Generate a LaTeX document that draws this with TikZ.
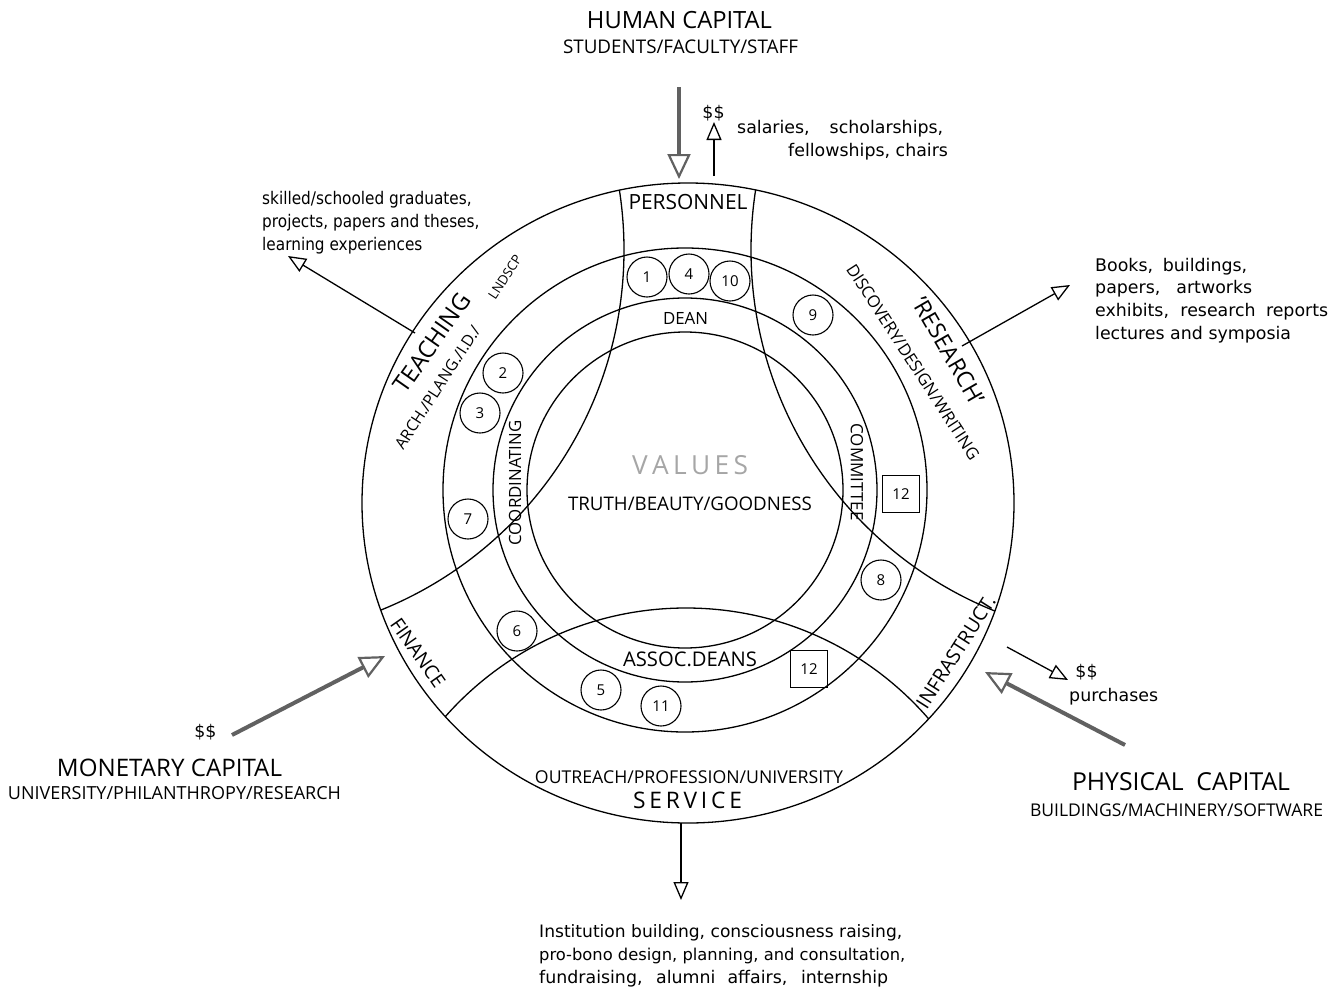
\documentclass[tikz,border=0pt]{standalone}
\usepackage{fontspec}
\setmainfont{Open Sans}
\newfontfamily\bodyfont{DejaVu Sans}
\usepackage{graphicx}
\usetikzlibrary{arrows.meta}
\newcommand\fitw[2]{\resizebox{#1pt}{!}{#2}}
\newcommand\spw[2]{\makebox[#1pt][s]{#2}}
\newcommand\narrowtext[1]{\scalebox{0.88}[1]{#1}}
\tikzset{
  ring/.style={line width=1.3pt},
  bigarc/.style={line width=1.3pt},
  num/.style={circle, draw, line width=1.1pt, minimum size=40pt, inner sep=0pt, font=\fontsize{15}{18}\selectfont},
  numsq/.style={rectangle, draw, line width=1.1pt, minimum size=37pt, inner sep=0pt, font=\fontsize{15}{18}\selectfont},
  lbl/.style={inner sep=0pt, anchor=center},
  lbb/.style={inner sep=0pt, anchor=base},
  lbw/.style={inner sep=0pt, anchor=base west},
  body/.style={inner sep=0pt, anchor=base west, font=\bodyfont\fontsize{17.4}{21}\selectfont},
  bodyc/.style={inner sep=0pt, anchor=base, font=\bodyfont\fontsize{17.4}{21}\selectfont},
  thinarrow/.style={line width=1.3pt, -{Triangle[open, length=18pt, width=15pt, line width=1.3pt]}},
  thickarrow/.style={line width=4pt, draw=black!62, -{Triangle[open, length=25pt, width=23pt, line width=2.2pt]}},
}
\begin{document}
\begin{tikzpicture}[x=1pt,y=-1pt]
\fill[white] (0,0) rectangle (1339,991);
\useasboundingbox (0,0) rectangle (1339,991);

% rings
\coordinate (O) at (688,503);
\coordinate (C) at (685,490);
\draw[ring] (O) ellipse [x radius=326, y radius=320];
\draw[ring] (C) circle [radius=242];
\draw[ring] (C) circle [radius=192];
\draw[ring] (C) circle [radius=158];

% big arcs
\begin{scope}
  \clip (O) ellipse [x radius=326, y radius=320];
  \draw[bigarc] (236,250) circle [radius=388];
  \draw[bigarc] (1140,250) circle [radius=389];
  \draw[bigarc] (686,929) circle [radius=321];
\end{scope}

% numbered circles and squares
\node[num] (n1) at (647,277) {1};
\node[num] (n4) at (689,274) {4};
\node[num] (n10) at (730,281) {10};
\node[num] (n2) at (503,373) {2};
\node[num] (n3) at (480,413) {3};
\node[num] (n7) at (468,519) {7};
\node[num] (n9) at (813,315) {9};
\node[num] (n8) at (881,580) {8};
\node[num] (n6) at (517,631) {6};
\node[num] (n5) at (601,690) {5};
\node[num] (n11) at (661,706) {11};
\node[numsq] (s12a) at (901,494) {12};
\node[numsq] (s12b) at (809,669) {12};

% labels inside the circle
\node[lbb] (personnel) at (688,209) {\fitw{119}{PERSONNEL}};
\node[lbb] (dean) at (685.5,324) {\fitw{45}{DEAN}};
\node[lbb] (assoc) at (690,666) {\fitw{134}{ASSOC.DEANS}};
\node[lbb, text=black!35] (values) at (690,474) {\fitw{116}{V\,A\,L\,U\,E\,S}};
\node[lbb] (truth) at (690,510) {\fitw{244}{TRUTH/BEAUTY/GOODNESS}};
\node[lbb] (outreach) at (689,783) {\fitw{308}{OUTREACH/PROFESSION/UNIVERSITY}};
\node[lbb] (service) at (687.5,808) {\fitw{109}{S\,E\,R\,V\,I\,C\,E}};
\node[lbl, rotate=90] (coord) at (515,483) {\fitw{125}{COORDINATING}};
\node[lbl, rotate=-90] (committee) at (857,472) {\fitw{97}{COMMITTEE}};
\node[lbl, rotate=55] (teaching) at (432,343) {\fitw{115}{TEACHING}};
\node[lbl, rotate=57] (arch) at (437.5,387.5) {\fitw{143}{ARCH./PLANG./I.D./}};
\node[lbl, rotate=57] (lndscp) at (505,277) {\fitw{50}{LNDSCP}};
\node[lbl, rotate=-60] (research) at (949,351) {\fitw{120}{'RESEARCH'}};
\node[lbl, rotate=-57] (discovery) at (913,362) {\fitw{229}{DISCOVERY/DESIGN/WRITING}};
\node[lbl, rotate=-55] (finance) at (418,653) {\fitw{80}{FINANCE}};
\node[lbl, rotate=57.5] (infra) at (956,652) {\fitw{130}{INFRASTRUCT.}};

% outside labels
\node[lbb] (hc) at (679.5,28) {\fitw{185}{HUMAN CAPITAL}};
\node[lbb] (hcs) at (680.5,53) {\fitw{235}{STUDENTS/FACULTY/STAFF}};
\node[bodyc] (dd1) at (713.5,118) {\$\$};
\node[body] (sal1) at (737,133) {\spw{206}{salaries, scholarships,}};
\node[body] (sal2) at (788,156.5) {fellowships, chairs};

\node[body] (tt1) at (262,204) {\narrowtext{skilled/schooled graduates,}};
\node[body] (tt2) at (262,227) {\narrowtext{projects, papers and theses,}};
\node[body] (tt3) at (262,250) {\narrowtext{learning experiences}};

\node[body] (rr1) at (1095,271) {\spw{152}{Books, buildings,}};
\node[body] (rr2) at (1095,293.5) {\spw{157}{papers, artworks}};
\node[body] (rr3) at (1095,316.5) {\spw{233}{exhibits, research reports}};
\node[body] (rr4) at (1095,339) {lectures and symposia};

\node[bodyc] (dd2) at (205.5,737) {\$\$};
\node[lbb] (mc) at (169.5,776) {\fitw{225}{MONETARY CAPITAL}};
\node[lbb] (mcs) at (174.5,799) {\fitw{333}{UNIVERSITY/PHILANTHROPY/RESEARCH}};

\node[bodyc] (dd3) at (1086.5,677) {\$\$};
\node[body] (purch) at (1069,701) {purchases};
\node[lbb] (pc) at (1181,790) {\fitw{218}{PHYSICAL\ \ CAPITAL}};
\node[lbb] (pcs) at (1176.5,816) {\fitw{293}{BUILDINGS/MACHINERY/SOFTWARE}};

\node[body] (ss1) at (539,937) {\fitw{363}{Institution building, consciousness raising,}};
\node[body] (ss2) at (539,960) {\fitw{366}{pro-bono design, planning, and consultation,}};
\node[body] (ss3) at (539,983) {\spw{349}{fundraising, alumni affairs, internship}};

% arrows
\coordinate (hcA) at (679,87);   \coordinate (hcB) at (679,179);
\coordinate (ssA) at (714,176);  \coordinate (ssB) at (714,122);
\coordinate (teA) at (415,333);  \coordinate (teB) at (288,256);
\coordinate (reA) at (962,346);  \coordinate (reB) at (1070,285);
\coordinate (moA) at (232,735);  \coordinate (moB) at (385,656);
\coordinate (phA) at (1125,745); \coordinate (phB) at (985,672);
\coordinate (puA) at (1007,647); \coordinate (puB) at (1068,680);
\coordinate (seA) at (681,823);  \coordinate (seB) at (681,900);
\draw[thickarrow] (hcA) -- (hcB);
\draw[thinarrow] (ssA) -- (ssB);
\draw[thinarrow] (teA) -- (teB);
\draw[thinarrow] (reA) -- (reB);
\draw[thickarrow] (moA) -- (moB);
\draw[thickarrow] (phA) -- (phB);
\draw[thinarrow] (puA) -- (puB);
\draw[thinarrow] (seA) -- (seB);
\end{tikzpicture}
\end{document}
